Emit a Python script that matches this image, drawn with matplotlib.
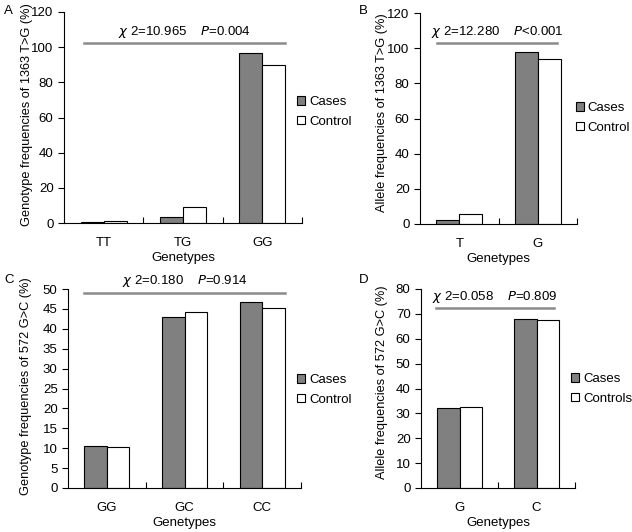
import matplotlib
matplotlib.use("Agg")
import matplotlib.pyplot as plt
import numpy as np

plt.rcParams['font.family'] = ['Liberation Sans', 'DejaVu Sans']

# panel A: genotype 1363 T>G
a_cats = ["TT", "TG", "GG"]
a_cases = [0.6, 3.2, 96.4]
a_control = [0.9, 9.0, 90.0]

# panel B: allele 1363 T>G
b_cats = ["T", "G"]
b_cases = [2.2, 98.1]
b_control = [5.9, 94.1]

# panel C: genotype 572 G>C
c_cats = ["GG", "GC", "CC"]
c_cases = [10.6, 42.9, 46.8]
c_control = [10.3, 44.3, 45.3]

# panel D: allele 572 G>C
d_cats = ["G", "C"]
d_cases = [32.1, 68.0]
d_control = [32.5, 67.6]

W, H = 632, 532
fig = plt.figure(figsize=(W / 100, H / 100), dpi=100)

GRAY = "#808080"


def make_panel(box, cats, cases, control, ymax, ystep, ylabel, ylab_pos, stat,
               stat_y, line_y, line_span, labels, leg_pos, letter, letter_pos):
    l, t, r, b = box
    ax = fig.add_axes([l / W, 1 - b / H, (r - l) / W, (b - t) / H])
    x = np.arange(len(cats))
    w = 0.29
    ax.bar(x - w / 2, cases, w, color=GRAY, edgecolor="black", linewidth=0.8, label=labels[0])
    ax.bar(x + w / 2, control, w, color="white", edgecolor="black", linewidth=0.8, label=labels[1])
    ax.set_xlim(-0.5, len(cats) - 0.5)
    ax.set_ylim(0, ymax)
    ax.set_yticks(np.arange(0, ymax + 0.1, ystep))
    ax.set_xticks(x)
    ax.set_xticklabels(cats, fontsize=9.5)
    ax.tick_params(axis="x", length=0, pad=10)
    ax.set_xticks(np.arange(0.5, len(cats)), minor=True)
    ax.tick_params(axis="x", which="minor", direction="in", length=4, width=0.8)
    ax.tick_params(axis="y", direction="out", length=4, width=0.8, labelsize=9.5)
    for s in ["top", "right"]:
        ax.spines[s].set_visible(False)
    for s in ["left", "bottom"]:
        ax.spines[s].set_linewidth(0.8)
    ax.set_xlabel("Genetypes", fontsize=9.5, labelpad=2)
    ax.set_ylabel(ylabel, fontsize=9.2)
    # label anchor is the right edge of the rotated text
    ax.yaxis.set_label_coords(ylab_pos[0] / W, 1 - ylab_pos[1] / H,
                              transform=fig.transFigure)
    ax.plot(line_span, [line_y, line_y], color="#8a8a8a", linewidth=1.8, clip_on=False)
    ax.text(np.mean(line_span), stat_y, stat, ha="center", va="center", fontsize=9.5)
    lx, ly = leg_pos
    ax.legend(loc="center left", bbox_to_anchor=(lx / W, 1 - ly / H),
              bbox_transform=fig.transFigure, frameon=False, fontsize=9.5,
              handlelength=0.6, handleheight=0.6, handletextpad=0.3,
              labelspacing=0.6, borderpad=0, borderaxespad=0)
    fig.text(letter_pos[0] / W, 1 - letter_pos[1] / H, letter, fontsize=9.5,
             ha="left", va="center")
    return ax


make_panel((64, 12, 302, 223), a_cats, a_cases, a_control, 120, 20,
           "Genotype frequencies of 1363 T>G (%)", (33, 115),
           r"$\chi$ 2=10.965    $P$=0.004", 108.5, 102.3, (-0.25, 2.28),
           ("Cases", "Control"), (297, 112), "A", (4, 11))
make_panel((420, 13, 577, 224), b_cats, b_cases, b_control, 120, 20,
           "Allele frequencies of 1363 T>G (%)", (388, 113),
           r"$\chi$ 2=12.280    $P$<0.001", 109, 103.2, (-0.28, 1.24),
           ("Cases", "Control"), (576, 118), "B", (359, 11))
make_panel((68, 289, 301, 488), c_cats, c_cases, c_control, 50, 5,
           "Genotype frequencies of 572 G>C (%)", (32, 386),
           r"$\chi$ 2=0.180    $P$=0.914", 51.9, 49.0, (-0.29, 2.29),
           ("Cases", "Control"), (297, 390), "C", (4, 280))
make_panel((421, 289, 575, 488), d_cats, d_cases, d_control, 80, 10,
           "Allele frequencies of 572 G>C (%)", (388, 382),
           r"$\chi$ 2=0.058    $P$=0.809", 76.9, 72.5, (-0.31, 1.23),
           ("Cases", "Controls"), (571, 389), "D", (359, 280))

fig.savefig("out.png", dpi=100)
